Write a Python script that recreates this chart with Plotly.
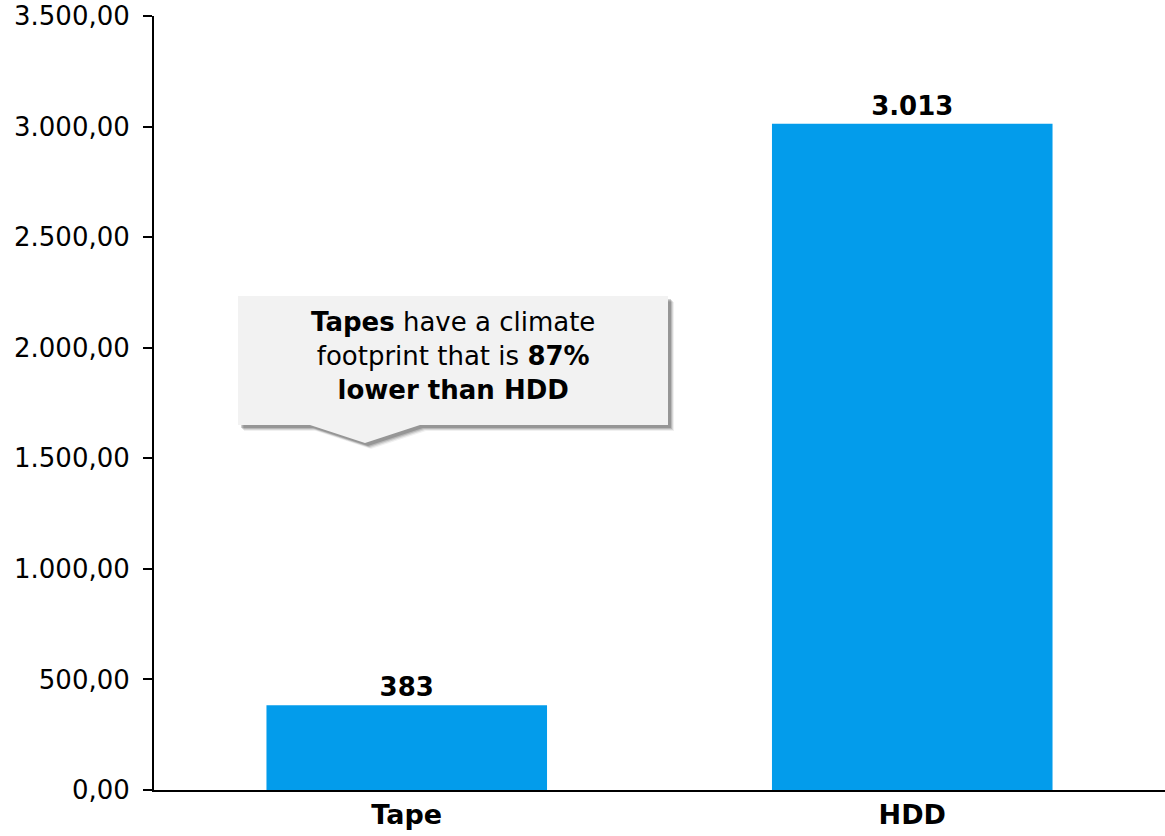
import plotly.graph_objects as go

# Climate footprint per storage medium
categories = ["Tape", "HDD"]
footprint = [383, 3013]
y_ticks = [0, 500, 1000, 1500, 2000, 2500, 3000, 3500]

BAR_COLOR = "#039CEB"
FONT = "DejaVu Sans"

W, H = 1165, 836
L, R, T, B = 154, 0, 16, 46
PW, PH = W - L - R, H - T - B


def px(x):
    return (x - L) / PW


def py(y):
    return (H - B - y) / PH


def callout_path(dx=0, dy=0):
    pts = [(238, 296), (668, 296), (668, 425), (420, 425), (365, 443),
           (310, 425), (238, 425)]
    return "M " + " L ".join(f"{px(x + dx):.5f},{py(y + dy):.5f}" for x, y in pts) + " Z"


fig = go.Figure(
    go.Bar(
        x=categories,
        y=footprint,
        marker=dict(color=BAR_COLOR, line=dict(width=0)),
        width=0.555,
        texttemplate="<b>%{y:,.0f}</b>",
        textposition="outside",
        textfont=dict(family=FONT, size=26, color="black"),
        cliponaxis=False,
    )
)

shapes = []
# soft drop shadow for the callout
for off, alpha in [(6, 0.06), (5, 0.10), (4, 0.14), (3, 0.18)]:
    shapes.append(dict(type="path", xref="paper", yref="paper",
                       path=callout_path(off, off),
                       fillcolor=f"rgba(0,0,0,{alpha})", line=dict(width=0),
                       layer="above"))
shapes.append(dict(type="path", xref="paper", yref="paper", path=callout_path(),
                   fillcolor="#F2F2F2", line=dict(width=0), layer="above"))

fig.update_layout(
    width=W,
    height=H,
    margin=dict(l=L, r=R, t=T, b=B),
    paper_bgcolor="white",
    plot_bgcolor="white",
    separators=",.",
    showlegend=False,
    font=dict(family=FONT, color="black"),
    bargap=0.445,
    shapes=shapes,
    annotations=[
        dict(
            xref="paper", yref="paper",
            x=px(453), y=py(356),
            text="<b>Tapes</b> have a climate<br>footprint that is <b>87%</b><br><b>lower than HDD</b>",
            showarrow=False,
            align="center",
            font=dict(family=FONT, size=26, color="black"),
            xanchor="center", yanchor="middle",
        )
    ],
    xaxis=dict(
        range=[-0.5, 1.5],
        showline=True, linecolor="black", linewidth=2,
        ticks="", showgrid=False, zeroline=False,
        tickfont=dict(family=FONT, size=27, color="black"),
        tickvals=[0, 1],
        ticktext=[f"<b>{c}</b>" for c in categories],
    ),
    yaxis=dict(
        range=[0, 3500],
        tickvals=y_ticks,
        tickformat=",.2f",
        showline=True, linecolor="black", linewidth=2,
        ticks="outside", ticklen=9, tickwidth=2, tickcolor="black",
        ticklabelstandoff=8,
        showgrid=False, zeroline=False,
        tickfont=dict(family=FONT, size=26, color="black"),
    ),
)

fig.write_html("out.html")
